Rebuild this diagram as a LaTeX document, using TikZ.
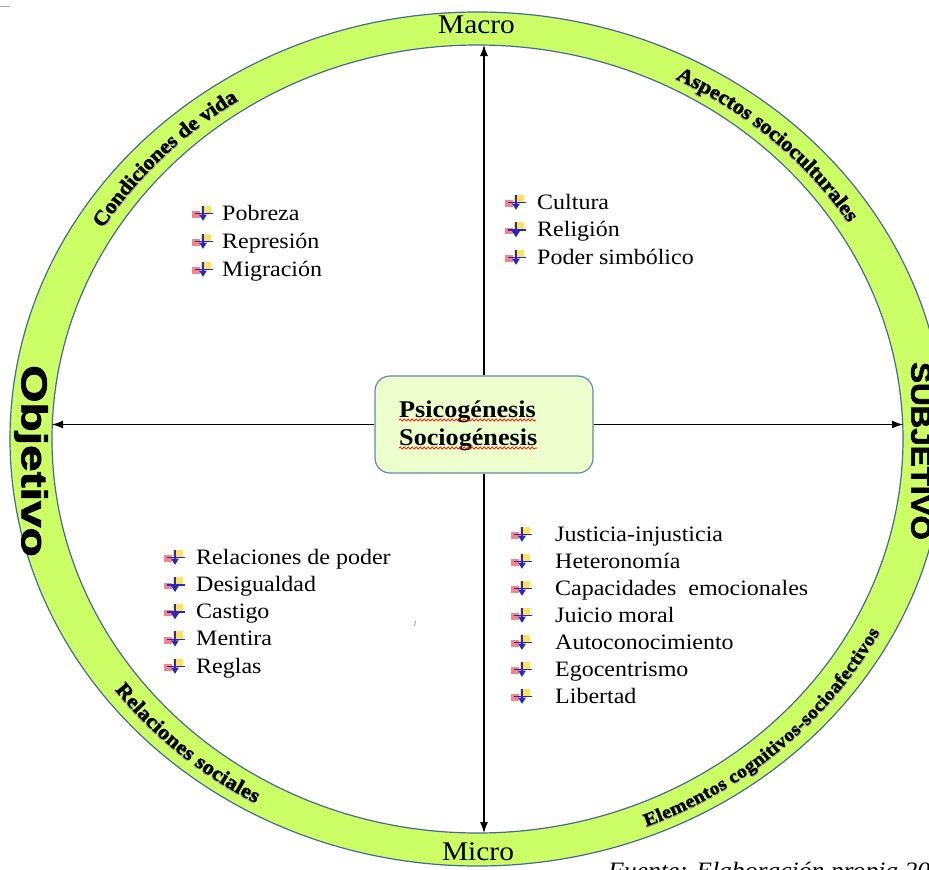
\documentclass[tikz,border=0pt]{standalone}
\usepackage{fontspec}
\setmainfont{Liberation Serif}[FakeStretch=1.09]
\newfontfamily\heavyfont{Liberation Sans}[BoldFeatures={FakeBold=2}]
\newfontfamily\ringserif{Liberation Serif}[FakeStretch=1.09, BoldFeatures={FakeBold=1.2}]
\usetikzlibrary{arrows.meta,calc,decorations.text,decorations.pathmorphing}

\definecolor{ringfill}{RGB}{204,255,102}
\definecolor{ringedge}{RGB}{70,105,145}
\definecolor{boxfill}{RGB}{236,255,204}
\definecolor{boxedge}{RGB}{100,135,175}
\definecolor{bulyellow}{RGB}{255,226,90}
\definecolor{bulred}{RGB}{240,90,100}
\definecolor{bulblue}{RGB}{40,40,190}

\newcommand\ringfont{\ringserif\fontsize{20.5}{20.5}\selectfont\bfseries}
\newcommand\smallringfont{\ringserif\fontsize{18.5}{18.5}\selectfont\bfseries}
\newcommand\itemfont{\fontsize{22}{27}\selectfont}

\begin{document}
\begin{tikzpicture}[x=1pt,y=-1pt,
  item/.style={anchor=base west, inner sep=0pt, font=\itemfont},
  pole/.style={anchor=base, inner sep=0pt, font=\fontsize{27}{27}\selectfont},
  centerbox/.style={draw=boxedge, fill=boxfill, line width=1.2pt, rounded corners=15pt,
    minimum width=218pt, minimum height=97pt, inner sep=0pt},
  boxword/.style={anchor=base west, inner sep=0pt, font=\fontsize{24}{28}\selectfont\bfseries},
  arr/.style={line width=1.1pt, -{Latex[length=11pt,width=8pt]}},
  wavy/.style={red, line width=0.7pt, decorate,
    decoration={snake, amplitude=1.1pt, segment length=4pt}},
  ringlabel/.style={decorate, decoration={text along path, text align=center, raise=-7pt, text={#1}}},
  ringshadow/.style={decorate, decoration={text along path, text align=center, raise=-8.3pt,
    text color=black!35, text={#1}}},
  bul/.pic={
    \begin{scope}[scale=1.12]
    \fill[bulyellow] (-2,-7) rectangle (7,0);
    \fill[bulred, opacity=0.75] (-10,-2) rectangle (-3,4);
    \draw[bulblue, line width=1.5pt] (-7,0) -- (9,0);
    \draw[bulblue, line width=1.5pt] (0,-7) -- (0,2);
    \fill[bulblue] (-3.5,1) -- (3.5,1) -- (0,6.5) -- cycle;
    \end{scope}
  }]
\useasboundingbox (0,0) rectangle (929,870);

% ring
\coordinate (c) at (477.5,439);
\path[fill=ringfill, draw=ringedge, line width=1.2pt, even odd rule]
  (c) ellipse[x radius=467.5pt, y radius=427pt]
  (c) ellipse[x radius=425.5pt, y radius=394pt];

% labels around the ring (soft shadow first, then the text)
\foreach \a/\b/\f/\t in {160/112/\ringfont/Condiciones de vida,
                         75/20/\ringfont/Aspectos socioculturales,
                         205/252/\ringfont/Relaciones sociales,
                         282/343/\smallringfont/Elementos cognitivos-socioafectivos}{
  \path[ringshadow={|\f|\t}]
    ($(c)+(\a:446.5pt and 410.5pt)$) arc[start angle=\a, end angle=\b, x radius=446.5pt, y radius=410.5pt];
  \path[ringlabel={|\f|\t}]
    ($(c)+(\a:446.5pt and 410.5pt)$) arc[start angle=\a, end angle=\b, x radius=446.5pt, y radius=410.5pt];
}

\node[pole] (macro) at (476.5,33) {Macro};
\node[pole] (micro) at (478,860) {Micro};

\node[rotate=-90, xscale=1.33, inner sep=0pt, font=\heavyfont\bfseries\fontsize{36}{36}\selectfont] (obj) at (31,461) {Objetivo};
\node[rotate=-90, xscale=1.12, inner sep=0pt, font=\heavyfont\bfseries\fontsize{28}{28}\selectfont] (subj) at (921,451) {SUBJETIVO};

% centre box
\node[centerbox] (cbox) at (484,424.5) {};
\node[boxword] (w1) at (399,417) {Psicogénesis};
\node[boxword] (w2) at (399,445) {Sociogénesis};
\draw[wavy] ([yshift=-3pt]w1.base west) -- ([yshift=-3pt]w1.base east);
\draw[wavy] ([yshift=-3pt]w2.base west) -- ([yshift=-3pt]w2.base east);

% axes
\coordinate (tipN) at (484,45);
\coordinate (tipS) at (484,833);
\coordinate (tipW) at (52,424.5);
\coordinate (tipE) at (903,424.5);
\draw[arr] (cbox.north) -- (tipN);
\draw[arr] (cbox.south) -- (tipS);
\draw[arr] (cbox.west) -- (tipW);
\draw[arr] (cbox.east) -- (tipE);

% quadrant lists
\foreach \t [count=\i from 0] in {Pobreza,Represión,Migración}{
  \node[item] (ul\i) at (222,{220+28*\i}) {\t};
  \pic at ([xshift=-19pt,yshift=6.5pt]ul\i.base west) {bul};
}
\foreach \t [count=\i from 0] in {Cultura,Religión,Poder simbólico}{
  \node[item] (ur\i) at (537,{209+27.5*\i}) {\t};
  \pic at ([xshift=-21pt,yshift=6.5pt]ur\i.base west) {bul};
}
\foreach \t [count=\i from 0] in {Relaciones de poder,Desigualdad,Castigo,Mentira,Reglas}{
  \node[item] (ll\i) at (196,{564+27.25*\i}) {\t};
  \pic at ([xshift=-21pt,yshift=6.5pt]ll\i.base west) {bul};
}
\foreach \t [count=\i from 0] in {Justicia-injusticia,Heteronomía,Capacidades\ \ emocionales,Juicio moral,Autoconocimiento,Egocentrismo,Libertad}{
  \node[item] (lr\i) at (555,{541+27*\i}) {\t};
  \pic at ([xshift=-33pt,yshift=6.5pt]lr\i.base west) {bul};
}

% source note
\node[anchor=base west, inner sep=0pt, font=\fontsize{23.5}{23.5}\selectfont\itshape] (src) at (608,878) {Fuente: Elaboración propia 20};

% stray marks
\draw[gray!70, line width=0.8pt] (0,6) -- (10,6);
\draw[gray!80, line width=0.8pt] (415.5,621) -- (414.5,626);
\end{tikzpicture}
\end{document}
